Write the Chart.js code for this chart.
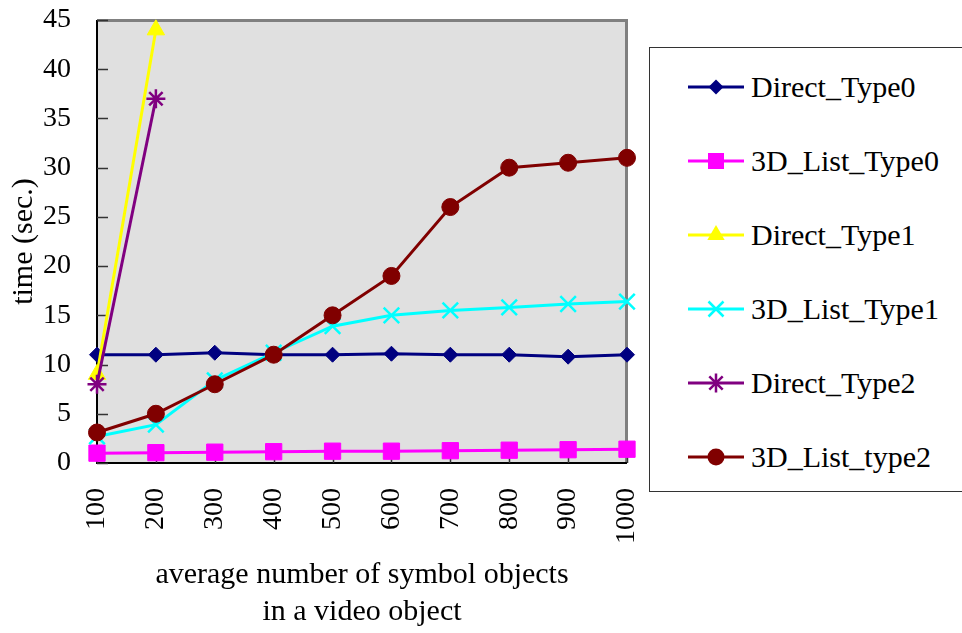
<!DOCTYPE html>
<html>
<head>
<meta charset="utf-8">
<script src="https://cdn.jsdelivr.net/npm/chart.js@4.4.1/dist/chart.umd.min.js"></script>
<style>
  html, body { margin: 0; padding: 0; background: #fff; }
  #wrap { position: relative; width: 962px; height: 633px; overflow: hidden; }
  #chart { position: absolute; left: 0; top: 0; }
  #legend {
    position: absolute; left: 649px; top: 47px; width: 340px; height: 445px;
    border: 1px solid #333; box-sizing: border-box; background: #fff;
    font-family: "Liberation Serif", "Times New Roman", serif; font-size: 30px; color: #000;
  }
  .row { position: absolute; left: 38px; height: 40px; display: flex; align-items: center; white-space: nowrap; }
  .row svg { width: 56px; height: 40px; margin-right: 7px; flex: none; }
</style>
</head>
<body>
<div id="wrap">
  <canvas id="chart" width="962" height="633"></canvas>
  <div id="legend"></div>
</div>
<script>
// x categories: average number of symbol objects per video object
const categories = ['100', '200', '300', '400', '500', '600', '700', '800', '900', '1000'];

// processing time in seconds for each method
const directType0 = [11, 11, 11.2, 11, 11, 11.1, 11, 11, 10.8, 11];
const listType0   = [1.0, 1.05, 1.1, 1.15, 1.2, 1.2, 1.25, 1.3, 1.35, 1.4];
const directType1 = [9, 44];
const listType1   = [2.7, 3.9, 8.4, 11.2, 13.9, 15, 15.5, 15.8, 16.15, 16.4];
const directType2 = [8, 37];
const listType2   = [3.1, 5, 8, 11, 15, 19, 26, 30, 30.5, 31];

const seriesNames = ['Direct_Type0', '3D_List_Type0', 'Direct_Type1', '3D_List_Type1', 'Direct_Type2', '3D_List_type2'];
const yTicks = { min: 0, max: 45, step: 5 };

const FONT = '"Liberation Serif", "Times New Roman", serif';

const styles = [
  { color: '#000080', pointStyle: 'rectRot',  radius: 7.5, bw: 1 },
  { color: '#FF00FF', pointStyle: 'rect',     radius: 11.5, bw: 1 },
  { color: '#FFFF00', pointStyle: 'triangle', radius: 10, bw: 1 },
  { color: '#00FFFF', pointStyle: 'crossRot', radius: 11, bw: 2.5 },
  { color: '#800080', pointStyle: 'star',     radius: 9.5, bw: 2.5 },
  { color: '#800000', pointStyle: 'circle',   radius: 8.5, bw: 1 }
];
const seriesData = [directType0, listType0, directType1, listType1, directType2, listType2];

const datasets = seriesData.map((d, i) => ({
  label: seriesNames[i],
  data: d,
  borderColor: styles[i].color,
  backgroundColor: styles[i].color,
  borderWidth: 3,
  pointStyle: styles[i].pointStyle,
  pointRadius: styles[i].radius,
  pointBorderWidth: styles[i].bw,
  pointBorderColor: styles[i].color,
  pointBackgroundColor: styles[i].color,
  tension: 0,
  clip: false,
  order: seriesData.length - i
}));

// plot-area frame: gray fill, raised border, inward tick marks
const framePlugin = {
  id: 'frame',
  beforeDraw(chart) {
    const { ctx, chartArea: { left, top, right, bottom } } = chart;
    ctx.save();
    ctx.fillStyle = '#e0e0e0';
    ctx.fillRect(left, top, right - left, bottom - top);
    ctx.restore();
  },
  beforeDatasetsDraw(chart) {
    const { ctx, chartArea: { left, top, right, bottom } } = chart;
    const xs = chart.scales.x, ys = chart.scales.y;
    ctx.save();
    ctx.strokeStyle = '#808080';
    ctx.lineWidth = 3;
    ctx.beginPath();
    ctx.moveTo(left, top + 0.5);
    ctx.lineTo(right - 0.5, top + 0.5);
    ctx.lineTo(right - 0.5, bottom);
    ctx.stroke();
    ctx.strokeStyle = '#000';
    ctx.lineWidth = 2;
    ctx.beginPath();
    ctx.moveTo(left, top);
    ctx.lineTo(left, bottom);
    ctx.lineTo(right, bottom);
    ctx.stroke();
    ctx.strokeStyle = '#333';
    ctx.lineWidth = 1.5;
    ctx.beginPath();
    ys.ticks.forEach(t => {
      const py = Math.round(ys.getPixelForValue(t.value)) + 0.5;
      ctx.moveTo(left, py);
      ctx.lineTo(left + 11, py);
    });
    xs.ticks.forEach((t, i) => {
      const px = Math.round(xs.getPixelForTick(i)) + 0.5;
      ctx.moveTo(px, bottom);
      ctx.lineTo(px, bottom - 9);
    });
    ctx.stroke();
    ctx.restore();
  }
};

new Chart(document.getElementById('chart'), {
  type: 'line',
  data: { labels: categories, datasets },
  options: {
    responsive: false,
    animation: false,
    devicePixelRatio: 1,
    layout: { padding: { top: 20, right: 335, left: 0, bottom: 0 } },
    plugins: { legend: { display: false }, tooltip: { enabled: false } },
    scales: {
      x: {
        type: 'category',
        offset: false,
        grid: { display: false, drawTicks: true, tickLength: 22 },
        border: { display: false },
        ticks: {
          autoSkip: false, minRotation: 90, maxRotation: 90, padding: 3,
          color: '#000', font: { family: FONT, size: 28 }
        },
        title: {
          display: true,
          text: ['average number of symbol objects', 'in a video object'],
          color: '#000',
          font: { family: FONT, size: 30, lineHeight: '37px' },
          padding: { top: 0, bottom: 2 }
        },
        afterFit(scale) { scale.height = 170; }
      },
      y: {
        min: yTicks.min, max: yTicks.max,
        grid: { display: false, drawTicks: true, tickLength: 23 },
        border: { display: false },
        ticks: {
          stepSize: yTicks.step, padding: 3,
          color: '#000', font: { family: FONT, size: 28 }
        },
        title: {
          display: true,
          text: 'time (sec.)',
          color: '#000',
          font: { family: FONT, size: 30, lineHeight: '36px' },
          padding: { top: 6, bottom: 0 }
        },
        afterFit(scale) { scale.width = 97; }
      }
    }
  },
  plugins: [framePlugin]
});

// legend: line segment with the series marker, then the series name
function markerSvg(st) {
  const c = st.color, cx = 28, cy = 20;
  let m = '';
  if (st.pointStyle === 'rectRot') {
    m = `<polygon points="${cx},${cy - 7.5} ${cx + 7.5},${cy} ${cx},${cy + 7.5} ${cx - 7.5},${cy}" fill="${c}"/>`;
  } else if (st.pointStyle === 'rect') {
    m = `<rect x="${cx - 8}" y="${cy - 8}" width="16" height="16" fill="${c}"/>`;
  } else if (st.pointStyle === 'triangle') {
    m = `<polygon points="${cx},${cy - 10} ${cx + 8.7},${cy + 5} ${cx - 8.7},${cy + 5}" fill="${c}"/>`;
  } else if (st.pointStyle === 'crossRot') {
    m = `<path d="M${cx - 7.5} ${cy - 7.5}L${cx + 7.5} ${cy + 7.5}M${cx + 7.5} ${cy - 7.5}L${cx - 7.5} ${cy + 7.5}" stroke="${c}" stroke-width="2.5"/>`;
  } else if (st.pointStyle === 'star') {
    m = `<path d="M${cx - 6.7} ${cy - 6.7}L${cx + 6.7} ${cy + 6.7}M${cx + 6.7} ${cy - 6.7}L${cx - 6.7} ${cy + 6.7}M${cx} ${cy - 9.5}L${cx} ${cy + 9.5}" stroke="${c}" stroke-width="2.5"/>`;
  } else {
    m = `<circle cx="${cx}" cy="${cy}" r="8.5" fill="${c}"/>`;
  }
  return `<svg viewBox="0 0 56 40"><line x1="0" y1="${cy}" x2="56" y2="${cy}" stroke="${c}" stroke-width="3"/>${m}</svg>`;
}

const legend = document.getElementById('legend');
seriesNames.forEach((name, i) => {
  const row = document.createElement('div');
  row.className = 'row';
  row.style.top = (19 + 74 * i) + 'px';
  row.innerHTML = markerSvg(styles[i]) + '<span>' + name + '</span>';
  legend.appendChild(row);
});
</script>
</body>
</html>
